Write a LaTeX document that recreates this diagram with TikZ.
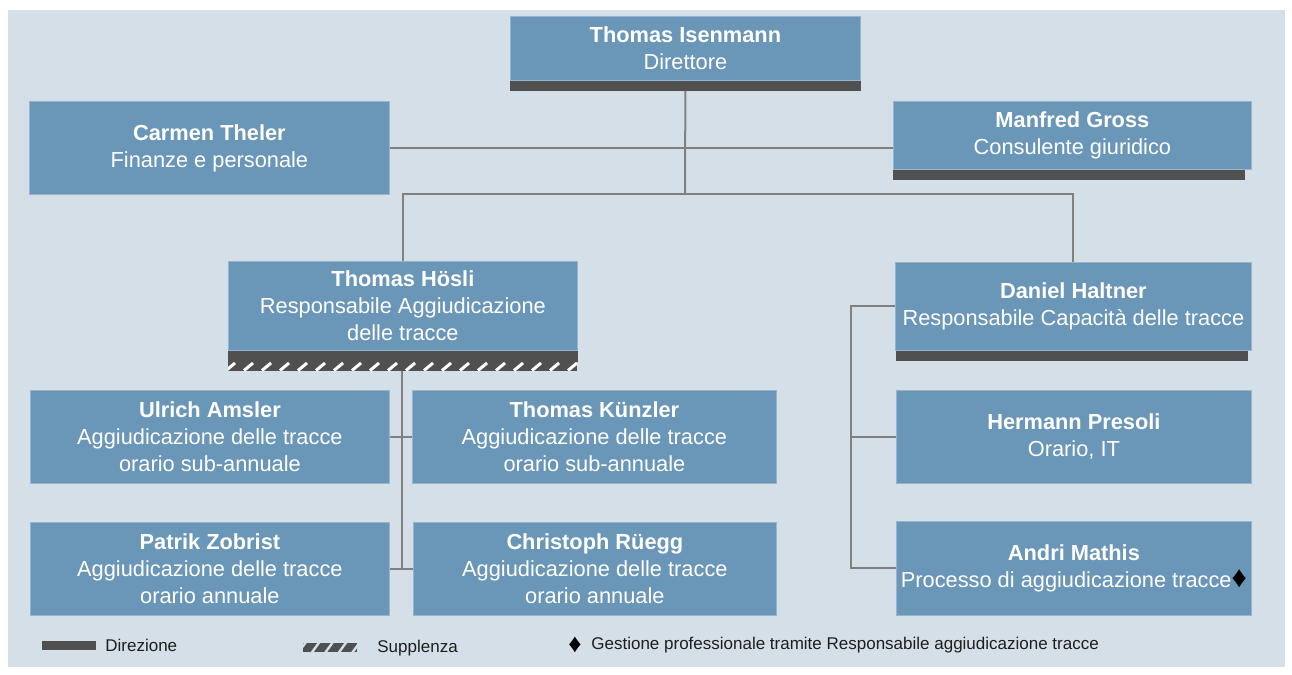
\documentclass[tikz,border=0pt]{standalone}
\usepackage{fontspec}
\setmainfont{Liberation Sans}
\definecolor{panel}{RGB}{213,223,232}
\definecolor{boxc}{RGB}{106,150,184}
\definecolor{boxedge}{RGB}{150,180,205}
\definecolor{barc}{RGB}{80,80,80}
\definecolor{connc}{RGB}{128,128,128}
\definecolor{legtext}{RGB}{30,30,30}
\newcommand{\bigdia}[1]{{\fontsize{#1}{10}\selectfont\textcolor{black}{♦}}}
\tikzset{
  box/.style={fill=boxc, draw=boxedge, line width=0.4pt, inner sep=0pt, align=center,
    text=white, font=\fontsize{10.9}{13.5}\selectfont, anchor=north west},
  conn/.style={draw=connc, line width=1pt},
  leg/.style={anchor=west, inner sep=0pt, text=legtext, font=\fontsize{8.5}{10}\selectfont},
  dirbar/.style={fill=barc},
}
\begin{document}
\begin{tikzpicture}[x=0.5pt,y=-0.5pt]
\useasboundingbox (0,0) rectangle (1292,675);
\fill[white] (0,0) rectangle (1292,675);
\fill[panel] (8,10) rectangle (1285,667);

% boxes
\node[box, minimum width=175pt, minimum height=32pt] (isen) at (510,16) {\textbf{Thomas Isenmann}\\Direttore};
\node[box, minimum width=180pt, minimum height=46.5pt] (theler) at (29,101) {\textbf{Carmen Theler}\\Finanze e personale};
\node[box, minimum width=179pt, minimum height=34pt] (gross) at (893,101) {\textbf{Manfred Gross}\\Consulente giuridico};
\node[box, minimum width=174.5pt, minimum height=44.5pt] (hosli) at (228,261) {\textbf{Thomas Hösli}\\Responsabile Aggiudicazione\\delle tracce};
\node[box, minimum width=178pt, minimum height=44pt] (haltner) at (895,262) {\textbf{Daniel Haltner}\\Responsabile Capacità delle tracce};
\node[box, minimum width=179.5pt, minimum height=46.5pt] (amsler) at (30,390) {\textbf{Ulrich Amsler}\\Aggiudicazione delle tracce\\orario sub-annuale};
\node[box, minimum width=182pt, minimum height=46.5pt] (kunzler) at (412,390) {\textbf{Thomas Künzler}\\Aggiudicazione delle tracce\\orario sub-annuale};
\node[box, minimum width=179.5pt, minimum height=46.5pt] (zobrist) at (30,522) {\textbf{Patrik Zobrist}\\Aggiudicazione delle tracce\\orario annuale};
\node[box, minimum width=181.5pt, minimum height=46.5pt] (ruegg) at (413,522) {\textbf{Christoph Rüegg}\\Aggiudicazione delle tracce\\orario annuale};
\node[box, minimum width=177.5pt, minimum height=46.5pt] (presoli) at (896,390) {\textbf{Hermann Presoli}\\Orario, IT};
\node[box, minimum width=177.5pt, minimum height=47pt] (mathis) at (896,521) {\textbf{Andri Mathis}\\Processo di aggiudicazione tracce\bigdia{15}};

% direction bars
\fill[dirbar] (isen.south west) rectangle ([yshift=-5pt]isen.south east);
\fill[dirbar] (gross.south west) rectangle ([xshift=-3.5pt,yshift=-5pt]gross.south east);
\fill[dirbar] ([xshift=0.5pt]haltner.south west) rectangle ([xshift=-2pt,yshift=-5pt]haltner.south east);
\fill[dirbar] (hosli.south west) rectangle ([yshift=-5.5pt]hosli.south east);
\begin{scope}
  \clip (228,361) rectangle (577,371);
  \fill[dirbar] (228,361) rectangle (577,371);
  \foreach \i in {0,...,20} \draw[white, line width=1.5pt] ({226+\i*18},370.5) -- ({235+\i*18},363);
\end{scope}

% connector anchors
\coordinate (isenbar) at ([yshift=-5pt]isen.south);
\coordinate (jtop) at (685,194);
\coordinate (hoslibar) at (402,371);
\coordinate (rbus) at (851,0);

% connectors
\draw[conn] (isenbar) -- (jtop);
\draw[conn] (theler.east) -- (theler.east -| gross.west);
\draw[conn] (hosli.north) |- (jtop) -| (haltner.north);
\draw[conn] (hoslibar) -- (hoslibar |- zobrist.east);
\draw[conn] (amsler.east) -- (kunzler.west);
\draw[conn] (zobrist.east) -- (ruegg.west);
\draw[conn] (haltner.west) -- (haltner.west -| rbus) -- (mathis.west -| rbus) -- (mathis.west);
\draw[conn] (presoli.west) -- (presoli.west -| rbus);

% legend
\fill[dirbar] (42,641) rectangle (96,650);
\node[leg] (legdir) at (105,645) {Direzione};
\begin{scope}
  \clip (303,643) rectangle (357,652);
  \fill[dirbar] (303,643) rectangle (357,652);
  \foreach \i in {0,...,5} \draw[panel, line width=1.2pt] ({298+\i*13.5},653) -- ({306+\i*13.5},642);
\end{scope}
\node[leg] (legsup) at (377,648) {Supplenza};
\node[leg] (legdia) at (568,645) {\bigdia{13}};
\node[leg] (legges) at (591,645) {Gestione professionale tramite Responsabile aggiudicazione tracce};
\end{tikzpicture}
\end{document}
